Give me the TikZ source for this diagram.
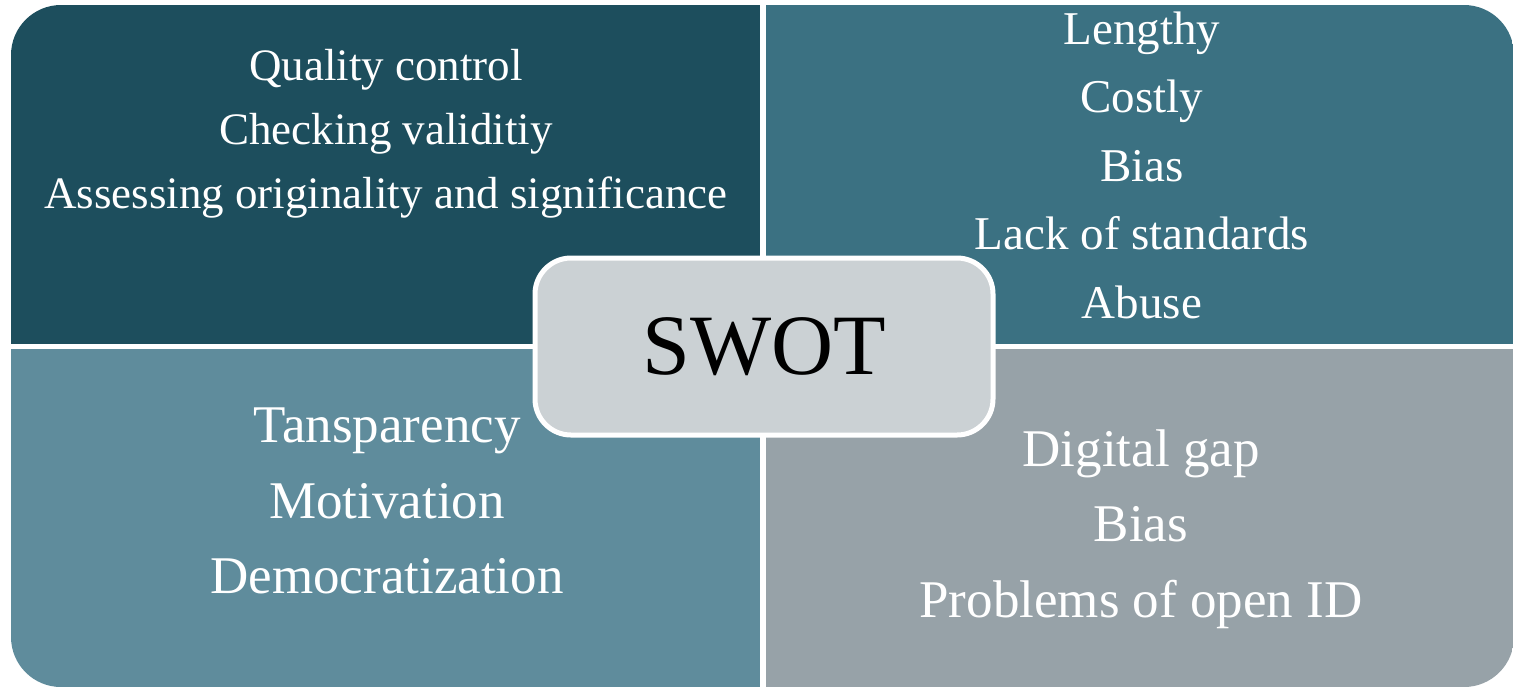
\documentclass[tikz,border=0pt]{standalone}
\usepackage{fontspec}
\setmainfont{Liberation Serif}
\usepackage{xcolor}
\definecolor{swotS}{HTML}{1D4E5D}
\definecolor{swotW}{HTML}{3B7182}
\definecolor{swotO}{HTML}{5F8C9C}
\definecolor{swotT}{HTML}{97A2A8}
\definecolor{swotC}{HTML}{CBD1D4}
\begin{document}
\begin{tikzpicture}[x=0.5pt,y=-0.5pt]
                \tikzset{Quad/.style={text=white, align=center}}
                \tikzset{Center/.style={rectangle, rounded corners=18pt, draw=white, line width=2.5pt, fill=swotC, minimum width=229pt, minimum height=88.5pt, font=\fontsize{43}{50}\selectfont}}

                \useasboundingbox (0,0) rectangle (1513,687);

                \begin{scope}
                    \clip[rounded corners=25pt] (11,5) rectangle (1514,687);
                    \fill[swotS] (11,5) rectangle (763,346);
                    \fill[swotW] (763,5) rectangle (1514,346);
                    \fill[swotO] (11,346) rectangle (763,687);
                    \fill[swotT] (763,346) rectangle (1514,687);
                \end{scope}
                \draw[white, line width=3pt] (763,5) -- (763,687);
                \draw[white, line width=2.5pt] (11,346) -- (1514,346);

                \node[Quad, font=\fontsize{22.5}{32}\selectfont](S) at (386,133.5) {Quality control\\Checking validitiy\\Assessing originality and significance};
                \node[Quad, font=\fontsize{23.5}{34.25}\selectfont](W) at (1142,165) {Lengthy\\Costly\\Bias\\Lack of standards\\Abuse};
                \node[Quad, font=\fontsize{26.5}{37.75}\selectfont](O) at (387,501) {Tansparency\\Motivation\\Democratization};
                \node[Quad, font=\fontsize{26.5}{37.75}\selectfont](T) at (1141,529) {Digital gap\\Bias\\Problems of open ID};

                \node[Center](SWOT) at (764,346.5) {SWOT};
            \end{tikzpicture}
\end{document}
